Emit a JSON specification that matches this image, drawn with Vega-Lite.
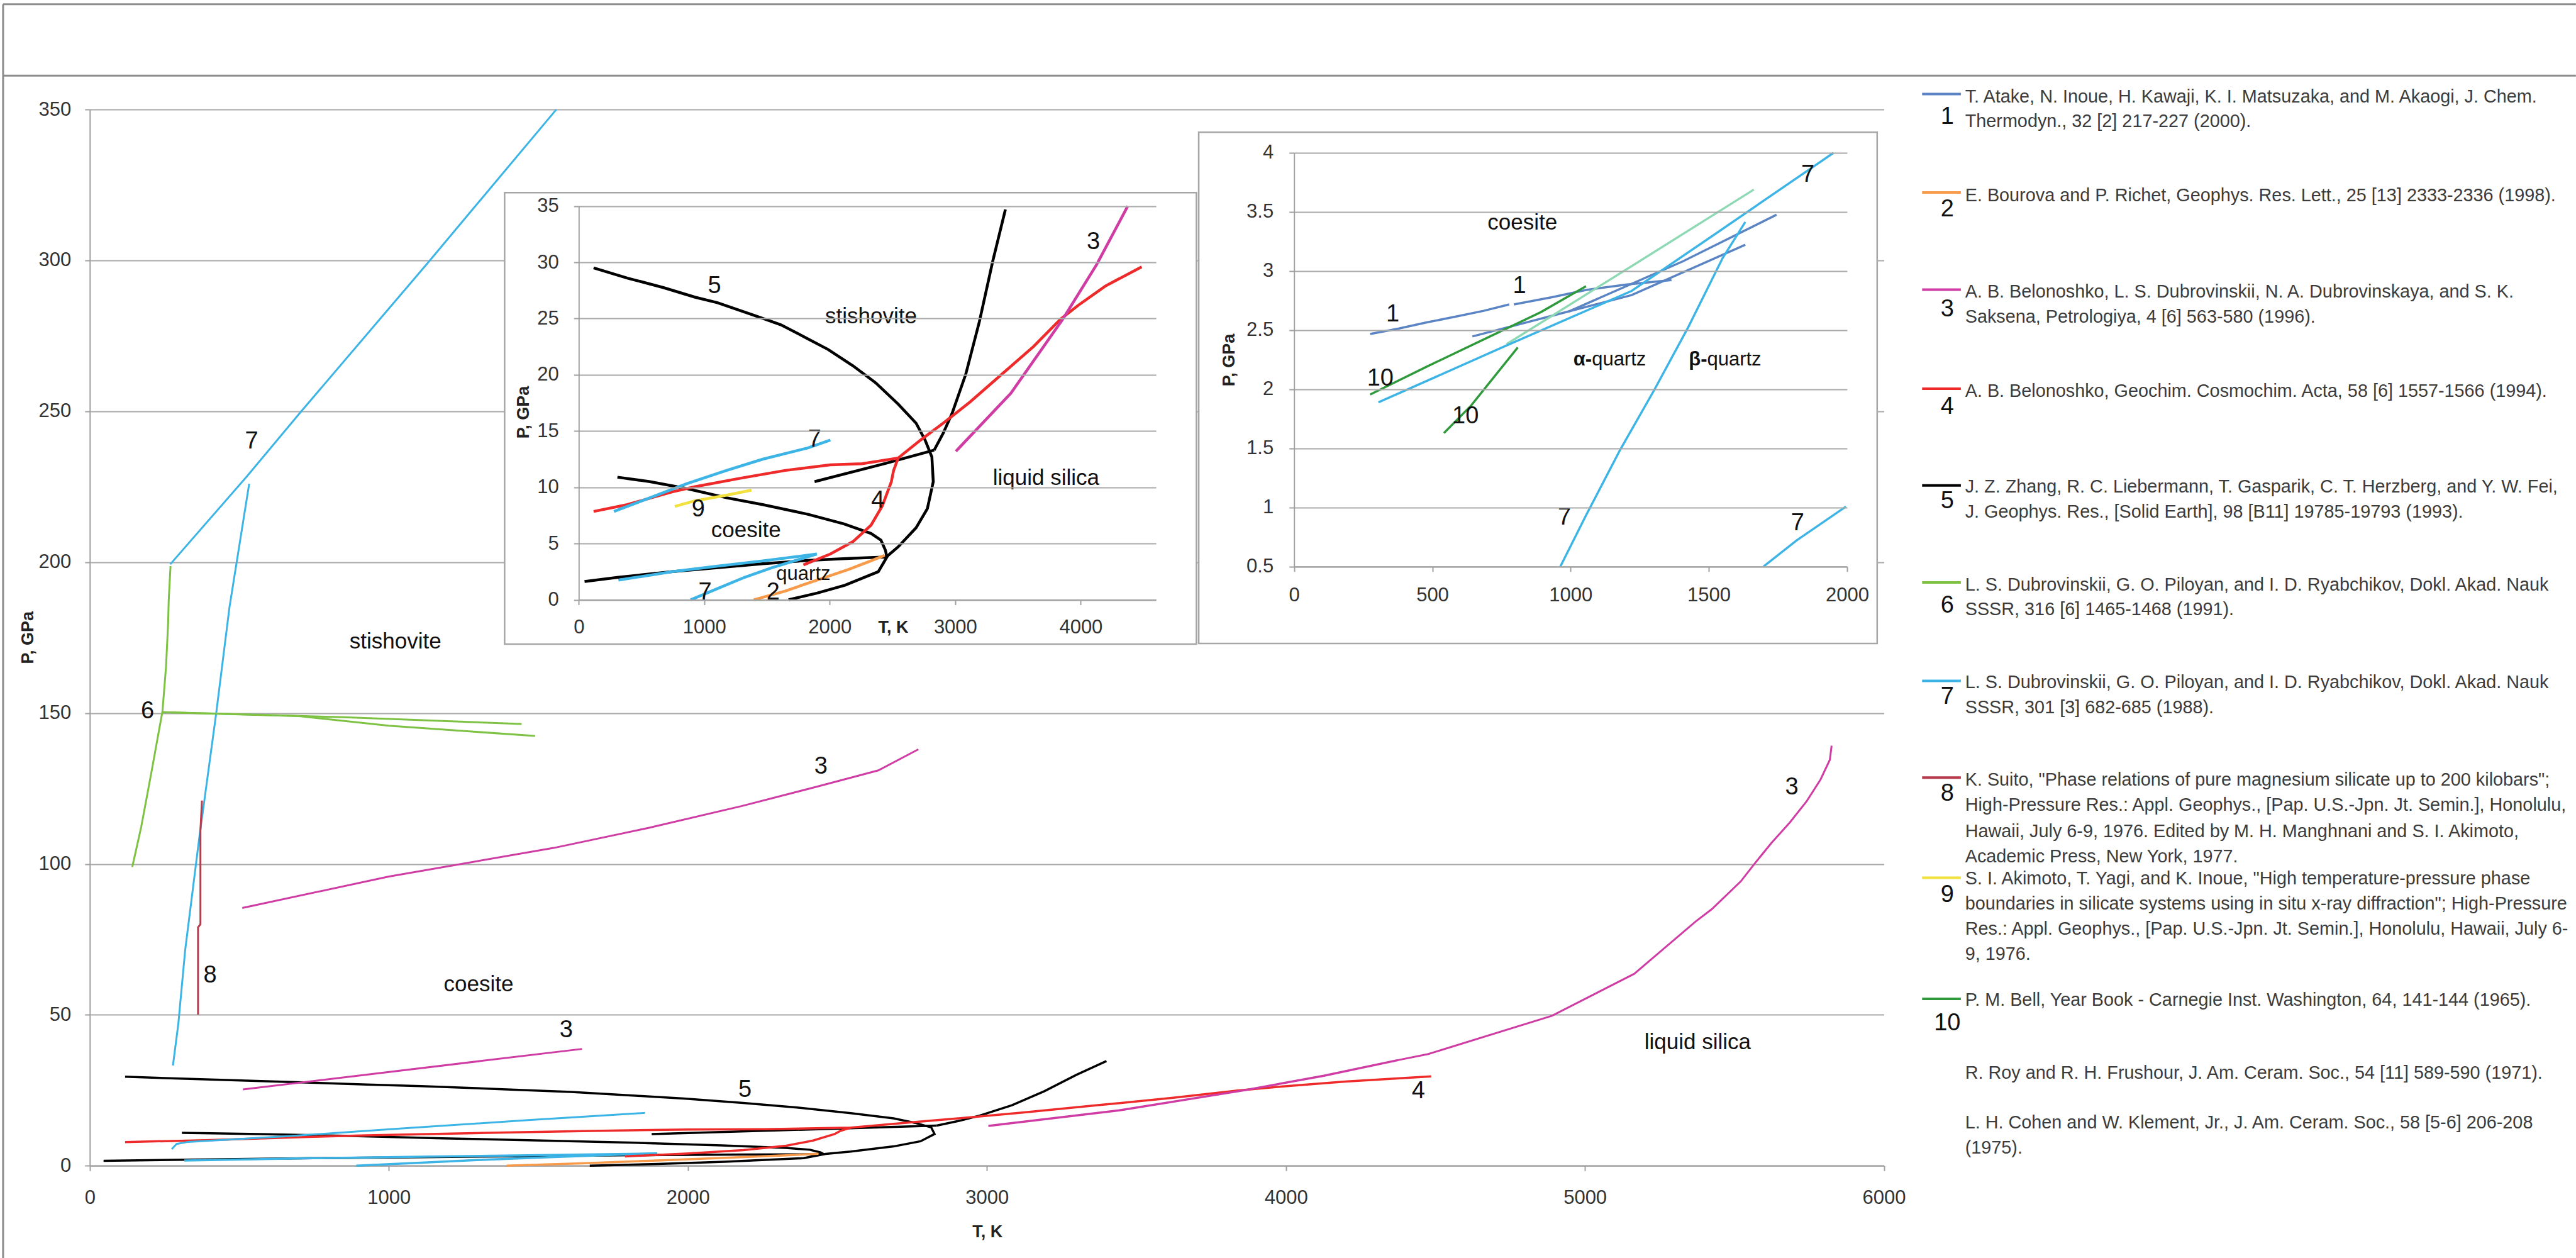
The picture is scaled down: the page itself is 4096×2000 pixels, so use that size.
{
"$schema": "https://vega.github.io/schema/vega-lite/v6.json",
"width": 4096, "height": 2000, "padding": 0, "autosize": {"type": "none"},
"background": "white",
"config": {
 "view": {"stroke": null},
 "font": "Liberation Sans",
 "axis": {"labelFont": "Liberation Sans", "labelFontSize": 31, "labelColor": "#333333", "domainColor": "#A0A0A0", "domainWidth": 2, "tickColor": "#A0A0A0", "tickWidth": 2, "tickSize": 8, "gridColor": "#A8A8A8", "gridWidth": 2, "titleFont": "Liberation Sans", "titleFontWeight": "bold", "titleFontSize": 27, "titleColor": "#222222", "labelOverlap": false, "labelFlush": false}
},
"datasets": {
 "frame": [
  {"T": -290, "T2": 8314, "P": 384.86, "P2": 384.86},
  {"T": -290, "T2": 8314, "P": 361.2, "P2": 361.2},
  {"T": -290, "T2": -290, "P": 384.86, "P2": -30.6}
 ],
 "low": [
  {"s":"5A","r":"5","i":0,"T":118,"P":29.5},{"s":"5A","r":"5","i":1,"T":387,"P":28.6},{"s":"5A","r":"5","i":2,"T":675,"P":27.75},{"s":"5A","r":"5","i":3,"T":927,"P":26.9},{"s":"5A","r":"5","i":4,"T":1107,"P":26.4},{"s":"5A","r":"5","i":5,"T":1394,"P":25.3},{"s":"5A","r":"5","i":6,"T":1610,"P":24.45},{"s":"5A","r":"5","i":7,"T":1826,"P":23.2},{"s":"5A","r":"5","i":8,"T":1987,"P":22.25},{"s":"5A","r":"5","i":9,"T":2185,"P":20.8},{"s":"5A","r":"5","i":10,"T":2365,"P":19.3},{"s":"5A","r":"5","i":11,"T":2545,"P":17.4},{"s":"5A","r":"5","i":12,"T":2688,"P":15.7},{"s":"5A","r":"5","i":13,"T":2760,"P":14.2},{"s":"5A","r":"5","i":14,"T":2814,"P":12.7},{"s":"5A","r":"5","i":15,"T":2825,"P":10.5},{"s":"5A","r":"5","i":16,"T":2778,"P":8.1},{"s":"5A","r":"5","i":17,"T":2688,"P":6.4},{"s":"5A","r":"5","i":18,"T":2545,"P":4.7},{"s":"5A","r":"5","i":19,"T":2461,"P":3.9},{"s":"5A","r":"5","i":20,"T":2387,"P":2.5},{"s":"5A","r":"5","i":21,"T":2122,"P":1.3},{"s":"5A","r":"5","i":22,"T":1900,"P":0.6},{"s":"5A","r":"5","i":23,"T":1672,"P":0},
  {"s":"5B1","r":"5","i":0,"T":3400,"P":34.7},{"s":"5B1","r":"5","i":1,"T":3299,"P":30.1},{"s":"5B1","r":"5","i":2,"T":3192,"P":24.7},{"s":"5B1","r":"5","i":3,"T":3084,"P":20.05},{"s":"5B1","r":"5","i":4,"T":2976,"P":16.6},{"s":"5B1","r":"5","i":5,"T":2904,"P":14.8},{"s":"5B1","r":"5","i":6,"T":2832,"P":13.3},
  {"s":"5B2","r":"5","i":0,"T":1879,"P":10.5},{"s":"5B2","r":"5","i":1,"T":2437,"P":12.1},{"s":"5B2","r":"5","i":2,"T":2832,"P":13.3},
  {"s":"5C","r":"5","i":0,"T":308,"P":10.9},{"s":"5C","r":"5","i":1,"T":567,"P":10.5},{"s":"5C","r":"5","i":2,"T":855,"P":9.9},{"s":"5C","r":"5","i":3,"T":1178,"P":9.07},{"s":"5C","r":"5","i":4,"T":1466,"P":8.46},{"s":"5C","r":"5","i":5,"T":1826,"P":7.6},{"s":"5C","r":"5","i":6,"T":2113,"P":6.75},{"s":"5C","r":"5","i":7,"T":2329,"P":5.9},{"s":"5C","r":"5","i":8,"T":2408,"P":5.3},{"s":"5C","r":"5","i":9,"T":2444,"P":4.4},{"s":"5C","r":"5","i":10,"T":2455,"P":3.8},
  {"s":"5D","r":"5","i":0,"T":46,"P":1.63},{"s":"5D","r":"5","i":1,"T":316,"P":2.0},{"s":"5D","r":"5","i":2,"T":747,"P":2.5},{"s":"5D","r":"5","i":3,"T":1107,"P":2.85},{"s":"5D","r":"5","i":4,"T":1466,"P":3.2},{"s":"5D","r":"5","i":5,"T":1826,"P":3.5},{"s":"5D","r":"5","i":6,"T":2185,"P":3.7},{"s":"5D","r":"5","i":7,"T":2455,"P":3.8},
  {"s":"7D","r":"7","i":0,"T":316,"P":1.75},{"s":"7D","r":"7","i":1,"T":747,"P":2.5},{"s":"7D","r":"7","i":2,"T":1107,"P":3.0},{"s":"7D","r":"7","i":3,"T":1466,"P":3.45},{"s":"7D","r":"7","i":4,"T":1897,"P":4.07},
  {"s":"7L","r":"7","i":0,"T":891,"P":0},{"s":"7L","r":"7","i":1,"T":1107,"P":1.0},{"s":"7L","r":"7","i":2,"T":1322,"P":2.0},{"s":"7L","r":"7","i":3,"T":1538,"P":2.85},{"s":"7L","r":"7","i":4,"T":1754,"P":3.58},{"s":"7L","r":"7","i":5,"T":1897,"P":4.07},
  {"s":"2","r":"2","i":0,"T":1394,"P":0},{"s":"2","r":"2","i":1,"T":1646,"P":0.78},{"s":"2","r":"2","i":2,"T":1897,"P":1.75},{"s":"2","r":"2","i":3,"T":2149,"P":2.7},{"s":"2","r":"2","i":4,"T":2329,"P":3.46},{"s":"2","r":"2","i":5,"T":2437,"P":3.95},
  {"s":"4A","r":"4","i":0,"T":118,"P":7.85},{"s":"4A","r":"4","i":1,"T":387,"P":8.46},{"s":"4A","r":"4","i":2,"T":747,"P":9.6},{"s":"4A","r":"4","i":3,"T":927,"P":10.05},{"s":"4A","r":"4","i":4,"T":1286,"P":10.8},{"s":"4A","r":"4","i":5,"T":1646,"P":11.5},{"s":"4A","r":"4","i":6,"T":2005,"P":12.0},{"s":"4A","r":"4","i":7,"T":2257,"P":12.1},{"s":"4A","r":"4","i":8,"T":2545,"P":12.6},{"s":"4A","r":"4","i":9,"T":2724,"P":14.2},{"s":"4A","r":"4","i":10,"T":2904,"P":15.7},{"s":"4A","r":"4","i":11,"T":3120,"P":17.6},{"s":"4A","r":"4","i":12,"T":3371,"P":20.05},{"s":"4A","r":"4","i":13,"T":3623,"P":22.5},{"s":"4A","r":"4","i":14,"T":3839,"P":24.94},{"s":"4A","r":"4","i":15,"T":3983,"P":26.2},{"s":"4A","r":"4","i":16,"T":4198,"P":27.9},{"s":"4A","r":"4","i":17,"T":4486,"P":29.6},
  {"s":"4B","r":"4","i":0,"T":1790,"P":3.1},{"s":"4B","r":"4","i":1,"T":2005,"P":4.07},{"s":"4B","r":"4","i":2,"T":2185,"P":5.17},{"s":"4B","r":"4","i":3,"T":2329,"P":6.63},{"s":"4B","r":"4","i":4,"T":2419,"P":8.34},{"s":"4B","r":"4","i":5,"T":2491,"P":10.5},{"s":"4B","r":"4","i":6,"T":2509,"P":11.5},{"s":"4B","r":"4","i":7,"T":2545,"P":12.6},
  {"s":"3L","r":"3","i":0,"T":3005,"P":13.2},{"s":"3L","r":"3","i":1,"T":3443,"P":18.35},{"s":"3L","r":"3","i":2,"T":3857,"P":24.94},{"s":"3L","r":"3","i":3,"T":4127,"P":29.8},{"s":"3L","r":"3","i":4,"T":4375,"P":35.0}
 ],
 "ins1only": [
  {"s":"7I","r":"7","i":0,"T":280,"P":7.85},{"s":"7I","r":"7","i":1,"T":567,"P":9.07},{"s":"7I","r":"7","i":2,"T":855,"P":10.3},{"s":"7I","r":"7","i":3,"T":1178,"P":11.5},{"s":"7I","r":"7","i":4,"T":1466,"P":12.5},{"s":"7I","r":"7","i":5,"T":1826,"P":13.5},{"s":"7I","r":"7","i":6,"T":2005,"P":14.2},
  {"s":"9","r":"9","i":0,"T":765,"P":8.3},{"s":"9","r":"9","i":1,"T":927,"P":8.8},{"s":"9","r":"9","i":2,"T":1178,"P":9.3},{"s":"9","r":"9","i":3,"T":1376,"P":9.75}
 ],
 "high": [
  {"s":"7a","r":"7","i":0,"T":269,"P":199.3},{"s":"7a","r":"7","i":1,"T":526,"P":228.5},{"s":"7a","r":"7","i":2,"T":703,"P":249.5},{"s":"7a","r":"7","i":3,"T":1128,"P":298.9},{"s":"7a","r":"7","i":4,"T":1560,"P":350},
  {"s":"7b","r":"7","i":0,"T":278,"P":33.2},{"s":"7b","r":"7","i":1,"T":296,"P":47},{"s":"7b","r":"7","i":2,"T":319,"P":71.5},{"s":"7b","r":"7","i":3,"T":366,"P":108.6},{"s":"7b","r":"7","i":4,"T":422,"P":149.4},{"s":"7b","r":"7","i":5,"T":467,"P":185},{"s":"7b","r":"7","i":6,"T":533,"P":226},
  {"s":"7c","r":"7","i":0,"T":274,"P":5.5},{"s":"7c","r":"7","i":1,"T":290,"P":7.2},{"s":"7c","r":"7","i":2,"T":329,"P":7.9},{"s":"7c","r":"7","i":3,"T":664,"P":9.8},{"s":"7c","r":"7","i":4,"T":1020,"P":12.2},{"s":"7c","r":"7","i":5,"T":1466,"P":15.1},{"s":"7c","r":"7","i":6,"T":1857,"P":17.5},
  {"s":"6a","r":"6","i":0,"T":142,"P":99},{"s":"6a","r":"6","i":1,"T":172,"P":112.3},{"s":"6a","r":"6","i":2,"T":207,"P":130.9},{"s":"6a","r":"6","i":3,"T":243,"P":150.6},{"s":"6a","r":"6","i":4,"T":255,"P":165.5},{"s":"6a","r":"6","i":5,"T":262,"P":180},{"s":"6a","r":"6","i":6,"T":264,"P":187.7},{"s":"6a","r":"6","i":7,"T":270,"P":198.7},
  {"s":"6b","r":"6","i":0,"T":243,"P":150.3},{"s":"6b","r":"6","i":1,"T":500,"P":149.6},{"s":"6b","r":"6","i":2,"T":850,"P":148.6},{"s":"6b","r":"6","i":3,"T":1444,"P":146.4},
  {"s":"6c","r":"6","i":0,"T":243,"P":150.3},{"s":"6c","r":"6","i":1,"T":700,"P":149},{"s":"6c","r":"6","i":2,"T":1000,"P":145.8},{"s":"6c","r":"6","i":3,"T":1489,"P":142.4},
  {"s":"8","r":"8","i":0,"T":362,"P":50.1},{"s":"8","r":"8","i":1,"T":362,"P":79},{"s":"8","r":"8","i":2,"T":370,"P":80},{"s":"8","r":"8","i":3,"T":370,"P":111},{"s":"8","r":"8","i":4,"T":375,"P":121},
  {"s":"3a","r":"3","i":0,"T":510,"P":85.4},{"s":"3a","r":"3","i":1,"T":998,"P":95.8},{"s":"3a","r":"3","i":2,"T":1551,"P":105.3},{"s":"3a","r":"3","i":3,"T":1866,"P":111.9},{"s":"3a","r":"3","i":4,"T":2181,"P":119.2},{"s":"3a","r":"3","i":5,"T":2431,"P":125.6},{"s":"3a","r":"3","i":6,"T":2637,"P":131},{"s":"3a","r":"3","i":7,"T":2771,"P":138},
  {"s":"3b","r":"3","i":0,"T":512,"P":25.3},{"s":"3b","r":"3","i":1,"T":1646,"P":38.7},
  {"s":"3U","r":"3","i":0,"T":4375,"P":35.0},{"s":"3U","r":"3","i":1,"T":4476,"P":37},{"s":"3U","r":"3","i":2,"T":4890,"P":49.7},{"s":"3U","r":"3","i":3,"T":5165,"P":63.6},{"s":"3U","r":"3","i":4,"T":5370,"P":80.9},{"s":"3U","r":"3","i":5,"T":5424,"P":85},{"s":"3U","r":"3","i":6,"T":5521,"P":94.2},{"s":"3U","r":"3","i":7,"T":5569,"P":100.3},{"s":"3U","r":"3","i":8,"T":5624,"P":107},{"s":"3U","r":"3","i":9,"T":5685,"P":113.7},{"s":"3U","r":"3","i":10,"T":5741,"P":120.7},{"s":"3U","r":"3","i":11,"T":5788,"P":128},{"s":"3U","r":"3","i":12,"T":5819,"P":134.5},{"s":"3U","r":"3","i":13,"T":5825,"P":139.2}
 ],
 "ins2": [
  {"s":"1a","r":"1","i":0,"T":275,"P":2.466},{"s":"1a","r":"1","i":1,"T":377,"P":2.511},{"s":"1a","r":"1","i":2,"T":480,"P":2.564},{"s":"1a","r":"1","i":3,"T":583,"P":2.612},{"s":"1a","r":"1","i":4,"T":686,"P":2.662},{"s":"1a","r":"1","i":5,"T":778,"P":2.716},
  {"s":"1b","r":"1","i":0,"T":795,"P":2.716},{"s":"1b","r":"1","i":1,"T":933,"P":2.777},{"s":"1b","r":"1","i":2,"T":1056,"P":2.838},{"s":"1b","r":"1","i":3,"T":1200,"P":2.883},{"s":"1b","r":"1","i":4,"T":1365,"P":2.922},
  {"s":"1c","r":"1","i":0,"T":645,"P":2.445},{"s":"1c","r":"1","i":1,"T":994,"P":2.657},{"s":"1c","r":"1","i":2,"T":1221,"P":2.795},{"s":"1c","r":"1","i":3,"T":1632,"P":3.22},
  {"s":"1d","r":"1","i":0,"T":994,"P":2.657},{"s":"1d","r":"1","i":1,"T":1406,"P":3.08},{"s":"1d","r":"1","i":2,"T":1745,"P":3.474},
  {"s":"aq","r":"11","i":0,"T":768,"P":2.379},{"s":"aq","r":"11","i":1,"T":1215,"P":3.031},{"s":"aq","r":"11","i":2,"T":1663,"P":3.687},
  {"s":"10a","r":"10","i":0,"T":275,"P":1.954},{"s":"10a","r":"10","i":1,"T":480,"P":2.19},{"s":"10a","r":"10","i":2,"T":686,"P":2.42},{"s":"10a","r":"10","i":3,"T":892,"P":2.65},{"s":"10a","r":"10","i":4,"T":1056,"P":2.87},
  {"s":"10b","r":"10","i":0,"T":542,"P":1.628},{"s":"10b","r":"10","i":1,"T":640,"P":1.86},{"s":"10b","r":"10","i":2,"T":809,"P":2.352},
  {"s":"7m","r":"7","i":0,"T":305,"P":1.888},{"s":"7m","r":"7","i":1,"T":760,"P":2.36},{"s":"7m","r":"7","i":2,"T":1221,"P":2.83},{"s":"7m","r":"7","i":3,"T":1509,"P":3.289},{"s":"7m","r":"7","i":4,"T":1951,"P":3.997},
  {"s":"7s","r":"7","i":0,"T":963,"P":0.5},{"s":"7s","r":"7","i":1,"T":1056,"P":0.933},{"s":"7s","r":"7","i":2,"T":1180,"P":1.49},{"s":"7s","r":"7","i":3,"T":1303,"P":1.994},{"s":"7s","r":"7","i":4,"T":1426,"P":2.525},{"s":"7s","r":"7","i":5,"T":1550,"P":3.108},{"s":"7s","r":"7","i":6,"T":1632,"P":3.413},
  {"s":"7r","r":"7","i":0,"T":1698,"P":0.5},{"s":"7r","r":"7","i":1,"T":1817,"P":0.72},{"s":"7r","r":"7","i":2,"T":1996,"P":1.007}
 ],
 "mainLab": [
  {"k":"n","lab":"7","T":541,"P":240},{"k":"n","lab":"6","T":193,"P":150.6},{"k":"n","lab":"8","T":402,"P":63},{"k":"n","lab":"3","T":1593,"P":44.8},{"k":"n","lab":"5","T":2191,"P":25.1},{"k":"n","lab":"3","T":2445,"P":132.3},{"k":"n","lab":"3","T":5692,"P":125.4},{"k":"n","lab":"4","T":4443,"P":24.7},
  {"k":"w","lab":"stishovite","T":1022,"P":173.7},{"k":"w","lab":"coesite","T":1300,"P":60},{"k":"w","lab":"liquid silica","T":5377,"P":41}
 ],
 "ins1Lab": [
  {"k":"n","lab":"5","T":1081,"P":27.9},{"k":"n","lab":"3","T":4101,"P":31.8},{"k":"n","lab":"7","T":1880,"P":14.25},{"k":"n","lab":"4","T":2383,"P":8.8},{"k":"n","lab":"9","T":952,"P":8.0},{"k":"n","lab":"7","T":1006,"P":0.65},{"k":"n","lab":"2","T":1549,"P":0.65},
  {"k":"w","lab":"stishovite","T":2329,"P":25.2},{"k":"w","lab":"liquid silica","T":3724,"P":10.8},{"k":"w","lab":"coesite","T":1333,"P":6.2},
  {"k":"s","lab":"quartz","T":1790,"P":2.24}
 ],
 "ins2Lab": [
  {"k":"n","lab":"1","T":357,"P":2.63},{"k":"n","lab":"1","T":815,"P":2.87},{"k":"n","lab":"7","T":1858,"P":3.81},{"k":"n","lab":"10","T":312,"P":2.087},{"k":"n","lab":"10","T":620,"P":1.768},{"k":"n","lab":"7","T":978,"P":0.912},{"k":"n","lab":"7","T":1821,"P":0.866},
  {"k":"w","lab":"coesite","T":826,"P":3.405},
  {"k":"g","lab":"α-","T":1077,"P":2.246},{"k":"g","lab":"β-","T":1494,"P":2.246},
  {"k":"q","lab":"quartz","T":1077,"P":2.246},{"k":"q","lab":"quartz","T":1494,"P":2.246}
 ],
 "legLines": [
  {"ln":-0.1,"r":"1"},{"ln":3.83,"r":"2"},{"ln":7.71,"r":"3"},{"ln":11.67,"r":"4"},{"ln":15.53,"r":"5"},{"ln":19.41,"r":"6"},{"ln":23.34,"r":"7"},{"ln":27.2,"r":"8"},{"ln":31.2,"r":"9"},{"ln":36.04,"r":"10"}
 ],
 "legNums": [
  {"ln":0.81,"num":"1"},{"ln":4.5,"num":"2"},{"ln":8.5,"num":"3"},{"ln":12.41,"num":"4"},{"ln":16.17,"num":"5"},{"ln":20.33,"num":"6"},{"ln":23.98,"num":"7"},{"ln":27.84,"num":"8"},{"ln":31.9,"num":"9"},{"ln":37.03,"num":"10"}
 ],
 "legText": [
  {"ln":0,"t":"T. Atake, N. Inoue, H. Kawaji, K. I. Matsuzaka, and M. Akaogi, J. Chem."},
  {"ln":1,"t":"Thermodyn., 32 [2] 217-227 (2000)."},
  {"ln":3.95,"t":"E. Bourova and P. Richet, Geophys. Res. Lett., 25 [13] 2333-2336 (1998)."},
  {"ln":7.8,"t":"A. B. Belonoshko, L. S. Dubrovinskii, N. A. Dubrovinskaya, and S. K."},
  {"ln":8.8,"t":"Saksena, Petrologiya, 4 [6] 563-580 (1996)."},
  {"ln":11.76,"t":"A. B. Belonoshko, Geochim. Cosmochim. Acta, 58 [6] 1557-1566 (1994)."},
  {"ln":15.6,"t":"J. Z. Zhang, R. C. Liebermann, T. Gasparik, C. T. Herzberg, and Y. W. Fei,"},
  {"ln":16.6,"t":"J. Geophys. Res., [Solid Earth], 98 [B11] 19785-19793 (1993)."},
  {"ln":19.5,"t":"L. S. Dubrovinskii, G. O. Piloyan, and I. D. Ryabchikov, Dokl. Akad. Nauk"},
  {"ln":20.5,"t":"SSSR, 316 [6] 1465-1468 (1991)."},
  {"ln":23.4,"t":"L. S. Dubrovinskii, G. O. Piloyan, and I. D. Ryabchikov, Dokl. Akad. Nauk"},
  {"ln":24.4,"t":"SSSR, 301 [3] 682-685 (1988)."},
  {"ln":27.3,"t":"K. Suito, \"Phase relations of pure magnesium silicate up to 200 kilobars\";"},
  {"ln":28.3,"t":"High-Pressure Res.: Appl. Geophys., [Pap. U.S.-Jpn. Jt. Semin.], Honolulu,"},
  {"ln":29.35,"t":"Hawaii, July 6-9, 1976.  Edited by M. H. Manghnani and S. I. Akimoto,"},
  {"ln":30.35,"t":"Academic Press, New York, 1977."},
  {"ln":31.25,"t":"S. I. Akimoto, T. Yagi, and K. Inoue, \"High temperature-pressure phase"},
  {"ln":32.25,"t":"boundaries in silicate systems using in situ x-ray diffraction\"; High-Pressure"},
  {"ln":33.25,"t":"Res.: Appl. Geophys., [Pap. U.S.-Jpn. Jt. Semin.], Honolulu, Hawaii, July 6-"},
  {"ln":34.25,"t":"9, 1976."},
  {"ln":36.1,"t":"P. M. Bell, Year Book - Carnegie Inst. Washington, 64, 141-144 (1965)."},
  {"ln":39.0,"t":"R. Roy and R. H. Frushour, J. Am. Ceram. Soc., 54 [11] 589-590 (1971)."},
  {"ln":41.0,"t":"L. H. Cohen and W. Klement, Jr., J. Am. Ceram. Soc., 58 [5-6] 206-208"},
  {"ln":42.0,"t":"(1975)."}
 ]
},
"layer": [
 {
  "encoding": {
   "x": {"field": "T", "type": "quantitative", "scale": {"domain": [0, 6000], "range": [142.8, 2995.6], "nice": false, "zero": false},
         "axis": {"orient": "bottom", "offset": -146.7, "values": [0,1000,2000,3000,4000,5000,6000], "format": "d", "grid": false, "labelBaseline": "middle", "labelPadding": 42.7, "title": "T, K", "titleX": 1569.7, "titleY": 105.6, "titleAlign": "center", "titleBaseline": "middle", "titleAngle": 0}},
   "y": {"field": "P", "type": "quantitative", "scale": {"domain": [0, 350], "range": [1853.3, 174.1], "nice": false, "zero": false},
         "axis": {"orient": "left", "offset": -142.8, "values": [0,50,100,150,200,250,300,350], "format": "d", "grid": true, "labelPadding": 22, "title": "P, GPa", "titleX": -98.8, "titleY": 1013.2, "titleAlign": "center", "titleBaseline": "middle", "titleAngle": 270}}
  },
  "layer": [
   {"data": {"name": "frame"}, "mark": {"type": "rule", "color": "#8C8C8C", "strokeWidth": 3}, "encoding": {"x2": {"field": "T2"}, "y2": {"field": "P2"}}},
   {"data": {"name": "low"}, "mark": {"type": "line", "strokeWidth": 3.5},
    "encoding": {"color": {"field": "r", "type": "nominal", "legend": null, "scale": {"domain": ["1","2","3","4","5","6","7","8","9","10","11"], "range": ["#5B84C4","#F79A4A","#CF3CA4","#EE2A2A","#000000","#7DC243","#3CB4E5","#B83A4B","#F2E13C","#2F9A3C","#8DD9B4"]}}, "detail": {"field": "s"}, "order": {"field": "i"}}},
   {"data": {"name": "high"}, "mark": {"type": "line", "strokeWidth": 3},
    "encoding": {"color": {"field": "r", "type": "nominal", "legend": null, "scale": {"domain": ["1","2","3","4","5","6","7","8","9","10","11"], "range": ["#5B84C4","#F79A4A","#CF3CA4","#EE2A2A","#000000","#7DC243","#3CB4E5","#B83A4B","#F2E13C","#2F9A3C","#8DD9B4"]}}, "detail": {"field": "s"}, "order": {"field": "i"}}},
   {"data": {"name": "mainLab"}, "transform": [{"filter": "datum.k == 'n'"}], "mark": {"type": "text", "font": "Liberation Sans", "fontSize": 38, "align": "center", "baseline": "middle", "color": "#111111"}, "encoding": {"text": {"field": "lab"}}},
   {"data": {"name": "mainLab"}, "transform": [{"filter": "datum.k == 'w'"}], "mark": {"type": "text", "font": "Liberation Sans", "fontSize": 35, "align": "center", "baseline": "middle", "color": "#111111"}, "encoding": {"text": {"field": "lab"}}}
  ]
 },
 {
  "encoding": {
   "x": {"field": "T", "type": "quantitative", "scale": {"domain": [0, 4600], "range": [920.3, 1838.1], "nice": false, "zero": false},
         "axis": {"orient": "bottom", "offset": -1046.45, "values": [0,1000,2000,3000,4000], "format": "d", "grid": false, "labelBaseline": "middle", "labelPadding": 36, "title": "T, K", "titleX": 1420, "titleY": 44, "titleAlign": "center", "titleBaseline": "middle", "titleAngle": 0, "zindex": 1}},
   "y": {"field": "P", "type": "quantitative", "scale": {"domain": [0, 35], "range": [953.55, 327.6], "nice": false, "zero": false},
         "axis": {"orient": "left", "offset": -920.3, "values": [0,5,10,15,20,25,30,35], "format": "d", "grid": true, "labelPadding": 24, "title": "P, GPa", "titleX": -88, "titleY": 655, "titleAlign": "center", "titleBaseline": "middle", "titleAngle": 270, "zindex": 1}}
  },
  "layer": [
   {"data": {"values": [{"T": -591, "T2": 4922, "P": 36.2, "P2": -3.94}]}, "mark": {"type": "rect", "fill": "white", "stroke": "#A6A6A6", "strokeWidth": 2.5}, "encoding": {"x2": {"field": "T2"}, "y2": {"field": "P2"}}},
   {"data": {"name": "low"}, "mark": {"type": "line", "strokeWidth": 4.5},
    "encoding": {"color": {"field": "r", "type": "nominal", "legend": null, "scale": {"domain": ["1","2","3","4","5","6","7","8","9","10","11"], "range": ["#5B84C4","#F79A4A","#CF3CA4","#EE2A2A","#000000","#7DC243","#3CB4E5","#B83A4B","#F2E13C","#2F9A3C","#8DD9B4"]}}, "detail": {"field": "s"}, "order": {"field": "i"}}},
   {"data": {"name": "ins1only"}, "mark": {"type": "line", "strokeWidth": 4.5},
    "encoding": {"color": {"field": "r", "type": "nominal", "legend": null, "scale": {"domain": ["1","2","3","4","5","6","7","8","9","10","11"], "range": ["#5B84C4","#F79A4A","#CF3CA4","#EE2A2A","#000000","#7DC243","#3CB4E5","#B83A4B","#F2E13C","#2F9A3C","#8DD9B4"]}}, "detail": {"field": "s"}, "order": {"field": "i"}}},
   {"data": {"name": "ins1Lab"}, "transform": [{"filter": "datum.k == 'n'"}], "mark": {"type": "text", "font": "Liberation Sans", "fontSize": 38, "align": "center", "baseline": "middle", "color": "#111111"}, "encoding": {"text": {"field": "lab"}}},
   {"data": {"name": "ins1Lab"}, "transform": [{"filter": "datum.k == 'w'"}], "mark": {"type": "text", "font": "Liberation Sans", "fontSize": 35, "align": "center", "baseline": "middle", "color": "#111111"}, "encoding": {"text": {"field": "lab"}}},
   {"data": {"name": "ins1Lab"}, "transform": [{"filter": "datum.k == 's'"}], "mark": {"type": "text", "font": "Liberation Sans", "fontSize": 31, "align": "center", "baseline": "middle", "color": "#111111"}, "encoding": {"text": {"field": "lab"}}}
  ]
 },
 {
  "encoding": {
   "x": {"field": "T", "type": "quantitative", "scale": {"domain": [0, 2000], "range": [2057.7, 2936.9], "nice": false, "zero": false},
         "axis": {"orient": "bottom", "offset": -1099.3, "values": [0,500,1000,1500,2000], "format": "d", "grid": false, "labelBaseline": "middle", "labelPadding": 38, "title": null, "zindex": 1}},
   "y": {"field": "P", "type": "quantitative", "scale": {"domain": [0.5, 4], "range": [900.7, 242.5], "nice": false, "zero": false},
         "axis": {"orient": "left", "offset": -2057.7, "values": [0.5,1,1.5,2,2.5,3,3.5,4], "format": "~g", "grid": true, "labelPadding": 25, "title": "P, GPa", "titleX": -103.7, "titleY": 572, "titleAlign": "center", "titleBaseline": "middle", "titleAngle": 270, "zindex": 1}}
  },
  "layer": [
   {"data": {"values": [{"T": -345, "T2": 2109, "P": 4.171, "P2": -0.15}]}, "mark": {"type": "rect", "fill": "white", "stroke": "#A6A6A6", "strokeWidth": 2.5}, "encoding": {"x2": {"field": "T2"}, "y2": {"field": "P2"}}},
   {"data": {"name": "ins2"}, "mark": {"type": "line", "strokeWidth": 3.5},
    "encoding": {"color": {"field": "r", "type": "nominal", "legend": null, "scale": {"domain": ["1","2","3","4","5","6","7","8","9","10","11"], "range": ["#5B84C4","#F79A4A","#CF3CA4","#EE2A2A","#000000","#7DC243","#3CB4E5","#B83A4B","#F2E13C","#2F9A3C","#8DD9B4"]}}, "detail": {"field": "s"}, "order": {"field": "i"}}},
   {"data": {"name": "ins2Lab"}, "transform": [{"filter": "datum.k == 'n'"}], "mark": {"type": "text", "font": "Liberation Sans", "fontSize": 38, "align": "center", "baseline": "middle", "color": "#111111"}, "encoding": {"text": {"field": "lab"}}},
   {"data": {"name": "ins2Lab"}, "transform": [{"filter": "datum.k == 'w'"}], "mark": {"type": "text", "font": "Liberation Sans", "fontSize": 35, "align": "center", "baseline": "middle", "color": "#111111"}, "encoding": {"text": {"field": "lab"}}},
   {"data": {"name": "ins2Lab"}, "transform": [{"filter": "datum.k == 'g'"}], "mark": {"type": "text", "font": "Liberation Sans", "fontSize": 31, "fontWeight": "bold", "align": "right", "baseline": "middle", "color": "#111111"}, "encoding": {"text": {"field": "lab"}}},
   {"data": {"name": "ins2Lab"}, "transform": [{"filter": "datum.k == 'q'"}], "mark": {"type": "text", "font": "Liberation Sans", "fontSize": 31, "align": "left", "baseline": "middle", "color": "#111111"}, "encoding": {"text": {"field": "lab"}}}
  ]
 },
 {
  "encoding": {
   "y": {"field": "ln", "type": "quantitative", "scale": {"domain": [0, 42], "range": [153.5, 1825.3], "nice": false, "zero": false}, "axis": null}
  },
  "layer": [
   {"data": {"name": "legLines"}, "mark": {"type": "rule", "strokeWidth": 4},
    "encoding": {"x": {"datum": 0, "type": "quantitative", "scale": {"domain": [0, 1], "range": [3056.3, 3117.9], "nice": false, "zero": false}, "axis": null}, "x2": {"datum": 1},
     "color": {"field": "r", "type": "nominal", "legend": null, "scale": {"domain": ["1","2","3","4","5","6","7","8","9","10","11"], "range": ["#5B84C4","#F79A4A","#CF3CA4","#EE2A2A","#000000","#7DC243","#3CB4E5","#B83A4B","#F2E13C","#2F9A3C","#8DD9B4"]}}}},
   {"data": {"name": "legNums"}, "mark": {"type": "text", "font": "Liberation Sans", "fontSize": 38, "align": "center", "baseline": "middle", "color": "#111111"},
    "encoding": {"x": {"datum": 0.65, "type": "quantitative", "scale": {"domain": [0, 1], "range": [3056.3, 3117.9], "nice": false, "zero": false}, "axis": null}, "text": {"field": "num"}}},
   {"data": {"name": "legText"}, "mark": {"type": "text", "font": "Liberation Sans", "fontSize": 28.8, "align": "left", "baseline": "middle", "color": "#3C3C3C"},
    "encoding": {"x": {"datum": 1.11, "type": "quantitative", "scale": {"domain": [0, 1], "range": [3056.3, 3117.9], "nice": false, "zero": false}, "axis": null}, "text": {"field": "t"}}}
  ]
 }
],
"resolve": {"scale": {"x": "independent", "y": "independent"}, "axis": {"x": "independent", "y": "independent"}}
}
